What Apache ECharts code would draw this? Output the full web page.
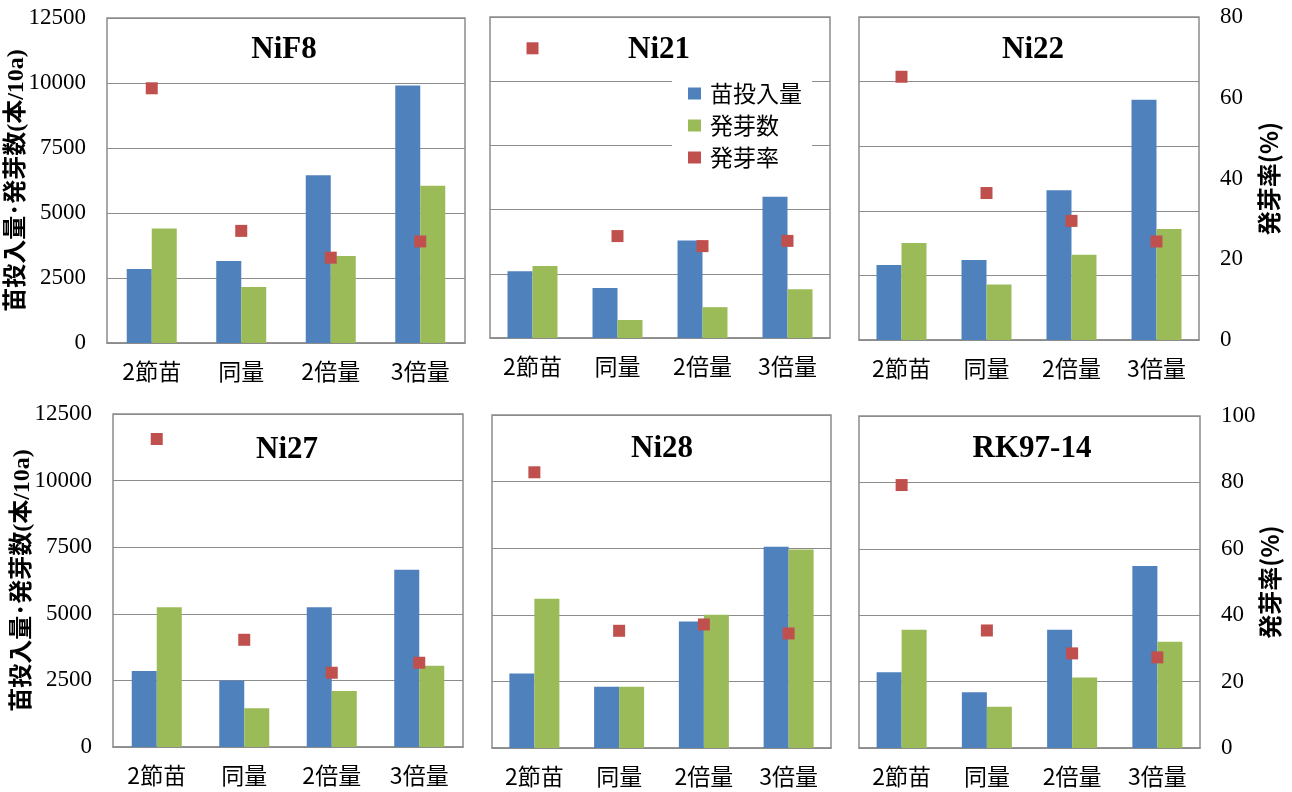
<!DOCTYPE html>
<html>
<head>
<meta charset="utf-8">
<script src="https://cdn.jsdelivr.net/npm/echarts@6/dist/echarts.min.js"></script>
<style>
html, body { margin: 0; padding: 0; background: #fff; }
#chart { width: 1292px; height: 792px; }
</style>
</head>
<body>
<div id="chart"></div>
<script>
// categories / panels
const categories = ['2節苗', '同量', '2倍量', '3倍量'];
const varieties = ['NiF8', 'Ni21', 'Ni22', 'Ni27', 'Ni28', 'RK97-14'];

// 苗投入量 (本/10a)
const nif8Input = [2850, 3150, 6450, 9900];
const ni21Input = [2600, 1950, 3800, 5500];
const ni22Input = [2900, 3100, 5800, 9300];
const ni27Input = [2850, 2500, 5250, 6650];
const ni28Input = [2800, 2300, 4750, 7550];
const rk9714Input = [2850, 2100, 4450, 6850];

// 発芽数 (本/10a)
const nif8Sprout = [4400, 2150, 3350, 6050];
const ni21Sprout = [2800, 700, 1200, 1900];
const ni22Sprout = [3750, 2150, 3300, 4300];
const ni27Sprout = [5250, 1450, 2100, 3050];
const ni28Sprout = [5600, 2300, 5000, 7450];
const rk9714Sprout = [4450, 1550, 2650, 4000];

// 発芽率 (%)
const nif8Rate = [62.7, 27.6, 21.0, 25.0];
const ni21Rate = [72.2, 25.4, 22.9, 24.2];
const ni22Rate = [65.2, 36.4, 29.5, 24.4];
const ni27Rate = [92.5, 32.2, 22.3, 25.3];
const ni28Rate = [82.8, 35.2, 37.1, 34.4];
const rk9714Rate = [79.2, 35.4, 28.5, 27.3];

// axis ticks
const countMax = 12500;
const countStep = 2500;
const rateMaxTop = 80;
const rateMaxBottom = 100;
const rateStep = 20;

const inputs = [nif8Input, ni21Input, ni22Input, ni27Input, ni28Input, rk9714Input];
const sprouts = [nif8Sprout, ni21Sprout, ni22Sprout, ni27Sprout, ni28Sprout, rk9714Sprout];
const rates = [nif8Rate, ni21Rate, ni22Rate, ni27Rate, ni28Rate, rk9714Rate];

const BLUE = '#4F81BD';
const GREEN = '#9BBB59';
const RED = '#C0504D';
const GRAY = '#8c8c8c';
const SERIF = '"Liberation Serif", "Times New Roman", serif';
const CJK = '"Noto Sans CJK JP", sans-serif';

// plot areas (left, top, width, height)
const grids = [
  { left: 107, top: 18, width: 358, height: 325 },
  { left: 490, top: 17, width: 340, height: 321 },
  { left: 859, top: 17, width: 340, height: 323 },
  { left: 113, top: 414, width: 350, height: 333 },
  { left: 492, top: 415, width: 339, height: 333 },
  { left: 859, top: 416, width: 341, height: 332 }
];

const titleX = [284, 659, 1033, 287, 662, 1032];
const titleY = [50, 50, 50, 450, 449, 449];

const myChart = echarts.init(document.getElementById('chart'));

const option = {
  animation: false,
  backgroundColor: '#fff',
  title: varieties.map((name, i) => ({
    text: name,
    left: titleX[i],
    top: titleY[i],
    textAlign: 'center',
    textVerticalAlign: 'middle',
    padding: 0,
    textStyle: {
      fontFamily: SERIF,
      fontWeight: 'bold',
      fontSize: 31,
      color: '#000'
    }
  })),
  legend: {
    orient: 'vertical',
    left: 672,
    top: 76,
    padding: [6, 10, 6, 16],
    itemGap: 9,
    itemWidth: 13,
    itemHeight: 12,
    backgroundColor: '#fff',
    data: [
      { name: '苗投入量', icon: 'rect' },
      { name: '発芽数', icon: 'rect' },
      { name: '発芽率', icon: 'rect' }
    ],
    textStyle: {
      fontFamily: CJK,
      fontSize: 23,
      color: '#000',
      padding: [0, 0, 0, 4]
    }
  },
  grid: grids.map(g => ({
    left: g.left,
    top: g.top,
    width: g.width,
    height: g.height,
    show: true,
    borderColor: GRAY,
    borderWidth: 1.5,
    backgroundColor: '#fff'
  })),
  xAxis: grids.map((g, i) => ({
    type: 'category',
    gridIndex: i,
    data: categories,
    axisLine: { lineStyle: { color: GRAY, width: 1.5 } },
    axisTick: { inside: true, length: 7, lineStyle: { color: GRAY } },
    axisLabel: {
      interval: 0,
      fontFamily: CJK,
      fontSize: 23,
      color: '#000',
      margin: 17
    }
  })),
  yAxis: []
};

grids.forEach((g, i) => {
  const top = i < 3;
  // left: counts
  option.yAxis.push({
    type: 'value',
    gridIndex: i,
    position: 'left',
    min: 0,
    max: countMax,
    interval: countStep,
    name: (i === 0 || i === 3) ? '苗投入量･発芽数(本/10a)' : '',
    nameLocation: 'middle',
    nameRotate: 90,
    nameGap: 78,
    nameMoveOverlap: false,
    nameTextStyle: {
      fontFamily: SERIF + ', "Noto Sans CJK JP"',
      fontWeight: 'bold',
      fontSize: 24,
      color: '#000'
    },
    axisLine: { show: false },
    axisTick: { show: false },
    axisLabel: {
      show: i === 0 || i === 3,
      formatter: v => String(v),
      fontFamily: SERIF,
      fontSize: 23,
      color: '#000',
      margin: 21
    },
    splitLine: { lineStyle: { color: GRAY, width: 1.2 } }
  });
  // right: rate
  option.yAxis.push({
    type: 'value',
    gridIndex: i,
    position: 'right',
    min: 0,
    max: top ? rateMaxTop : rateMaxBottom,
    interval: rateStep,
    name: (i === 2 || i === 5) ? '発芽率(%)' : '',
    nameLocation: 'middle',
    nameRotate: 90,
    nameGap: 58,
    nameMoveOverlap: false,
    nameTextStyle: {
      fontFamily: CJK,
      fontWeight: 'bold',
      fontSize: 24,
      color: '#000'
    },
    axisLine: { show: false },
    axisTick: { show: false },
    axisLabel: {
      show: i === 2 || i === 5,
      fontFamily: SERIF,
      fontSize: 23,
      color: '#000',
      margin: 21
    },
    splitLine: { show: false }
  });
});

option.series = [];
grids.forEach((g, i) => {
  option.series.push({
    type: 'bar',
    name: '苗投入量',
    xAxisIndex: i,
    yAxisIndex: i * 2,
    barWidth: 25,
    barGap: '0%',
    itemStyle: { color: BLUE },
    data: inputs[i]
  });
  option.series.push({
    type: 'bar',
    name: '発芽数',
    xAxisIndex: i,
    yAxisIndex: i * 2,
    barWidth: 25,
    barGap: '0%',
    itemStyle: { color: GREEN },
    data: sprouts[i]
  });
  option.series.push({
    type: 'scatter',
    name: '発芽率',
    xAxisIndex: i,
    yAxisIndex: i * 2 + 1,
    symbol: 'rect',
    symbolSize: 12,
    z: 5,
    itemStyle: { color: RED, opacity: 1 },
    data: rates[i]
  });
});

myChart.setOption(option);
</script>
</body>
</html>
